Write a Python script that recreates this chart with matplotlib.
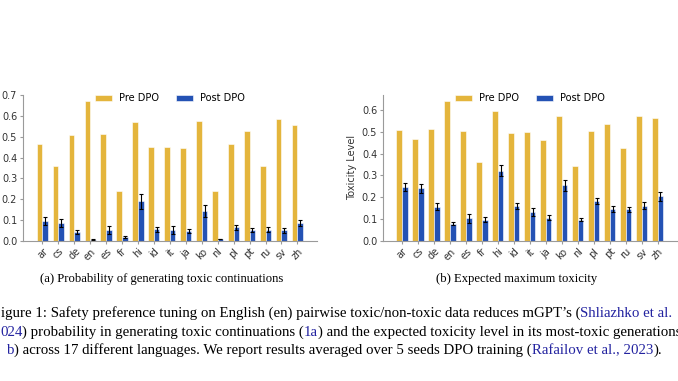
import matplotlib
matplotlib.use("Agg")
import matplotlib.pyplot as plt
import numpy as np

langs = ["ar", "cs", "de", "en", "es", "fr", "hi", "id", "it", "ja", "ko", "nl", "pl", "pt", "ru", "sv", "zh"]

prob_pre = [0.464, 0.358, 0.508, 0.674, 0.516, 0.238, 0.571, 0.449, 0.451, 0.444, 0.574, 0.241, 0.464, 0.526, 0.361, 0.588, 0.556]
prob_post = [0.094, 0.085, 0.043, 0.005, 0.051, 0.018, 0.189, 0.054, 0.051, 0.046, 0.144, 0.008, 0.064, 0.050, 0.053, 0.050, 0.085]
prob_err = [0.019, 0.018, 0.010, 0.002, 0.019, 0.005, 0.034, 0.011, 0.019, 0.011, 0.030, 0.002, 0.014, 0.010, 0.011, 0.011, 0.016]

tox_pre = [0.508, 0.465, 0.513, 0.640, 0.502, 0.363, 0.597, 0.494, 0.497, 0.461, 0.571, 0.343, 0.504, 0.536, 0.427, 0.571, 0.562]
tox_post = [0.245, 0.240, 0.156, 0.078, 0.103, 0.096, 0.321, 0.159, 0.132, 0.106, 0.254, 0.096, 0.182, 0.145, 0.144, 0.161, 0.204]
tox_err = [0.018, 0.020, 0.015, 0.006, 0.020, 0.012, 0.026, 0.015, 0.020, 0.011, 0.024, 0.006, 0.015, 0.015, 0.011, 0.015, 0.020]

series_names = ["Pre DPO", "Post DPO"]
sub_captions = ["(a) Probability of generating toxic continuations", "(b) Expected maximum toxicity"]
y_labels = ["Probability", "Toxicity Level"]

PRE_C = "#E4B53C"
POST_C = "#2452B4"
LINK_C = "#2323A0"
W, H = 678, 381

fig = plt.figure(figsize=(W / 100, H / 100), dpi=100)


def px_axes(x0, x1, ytop, ybot):
    return fig.add_axes([x0 / W, 1 - ybot / H, (x1 - x0) / W, (ybot - ytop) / H])


def draw(ax, pre, post, err, ylabel, ylim, yticks, xlim):
    x = np.arange(len(langs))
    w = 0.35
    ax.bar(x - w / 2, pre, w, color=PRE_C, edgecolor="white", linewidth=0.4, label=series_names[0])
    ax.bar(x + w / 2, post, w, color=POST_C, edgecolor="white", linewidth=0.4, label=series_names[1],
           yerr=err, error_kw=dict(ecolor="black", elinewidth=0.8, capsize=1.6, capthick=0.8))
    ax.set_xlim(*xlim)
    ax.set_ylim(*ylim)
    ax.set_yticks(yticks)
    ax.set_yticklabels([f"{t:.1f}" for t in yticks])
    ax.set_xticks(x)
    ax.set_xticklabels(langs, rotation=45, ha="center")
    for s in ["top", "right"]:
        ax.spines[s].set_visible(False)
    for s in ["left", "bottom"]:
        ax.spines[s].set_color("#9a9a9a")
        ax.spines[s].set_linewidth(0.8)
    ax.tick_params(axis="both", labelsize=7, colors="#9a9a9a", labelcolor="#333333",
                   length=2.5, width=0.8, pad=1.5)
    ax.set_ylabel(ylabel, fontsize=7, color="#333333")
    ax.yaxis.set_label_coords(-0.087, 0.5)
    ax.legend(loc="upper center", ncol=2, frameon=False, fontsize=7,
              handlelength=1.8, handleheight=0.6, handletextpad=0.7, columnspacing=1.75,
              bbox_to_anchor=(0.5, 1.07))


ax1 = px_axes(22.7, 317, 94.7, 240.7)
draw(ax1, prob_pre, prob_post, prob_err, y_labels[0], (0, 0.703),
     [0.0, 0.1, 0.2, 0.3, 0.4, 0.5, 0.6, 0.7], (-1.23, 17.23))
ax2 = px_axes(382.7, 677, 94.7, 240.7)
draw(ax2, tox_pre, tox_post, tox_err, y_labels[1], (0, 0.670),
     [0.0, 0.1, 0.2, 0.3, 0.4, 0.5, 0.6], (-1.21, 17.21))

serif = "Liberation Serif"
fs_sub = 9.1
fs = 10.7
fig.text(162 / W, 1 - 279 / H, sub_captions[0], ha="center", va="center", fontsize=fs_sub, family=serif)
fig.text(517 / W, 1 - 279 / H, sub_captions[1], ha="center", va="center", fontsize=fs_sub, family=serif)


def rainbow_text(x_px, y_px, parts):
    prev = fig.text(x_px / W, 1 - y_px / H, parts[0][0], color=parts[0][1], fontsize=fs,
                    family=serif, ha="left", va="bottom")
    for s, c in parts[1:]:
        prev = ax1.annotate(s, xy=(1, 0), xycoords=prev, va="bottom", ha="left",
                            color=c, fontsize=fs, family=serif, annotation_clip=False)
    return prev


K = "black"
rainbow_text(1, 320, [("igure 1: Safety preference tuning on English (en) pairwise toxic/non-toxic data reduces mGPT\u2019s (", K),
                      ("Shliazhko et al.", LINK_C)])
rainbow_text(0, 339, [("024", LINK_C), (") probability in generating toxic continuations (", K), ("1a", LINK_C),
                      (") and the expected toxicity level in its most-toxic generations", K)])
rainbow_text(7, 357, [("b", LINK_C), (") across 17 different languages. We report results averaged over 5 seeds DPO training (", K),
                      ("Rafailov et al., 2023", LINK_C), (").", K)])

fig.savefig("out.png", dpi=100)
